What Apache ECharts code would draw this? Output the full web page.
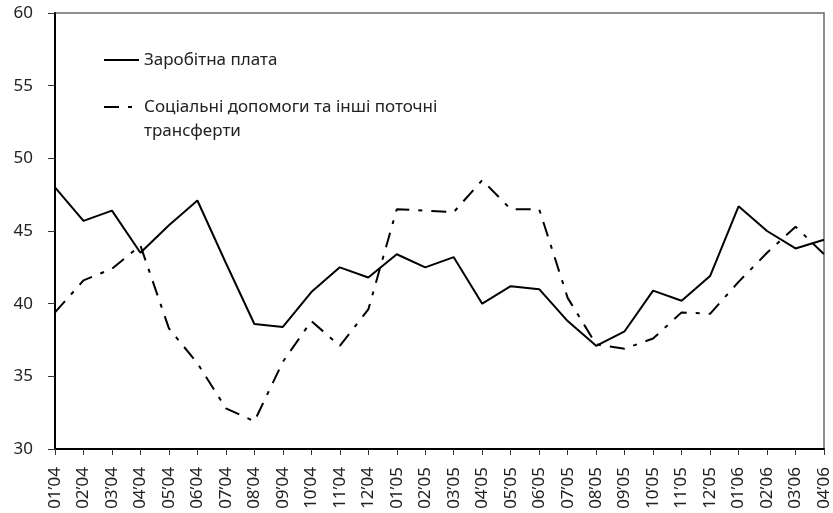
<!DOCTYPE html>
<html>
<head>
<meta charset="utf-8">
<script src="https://cdn.jsdelivr.net/npm/echarts@6/dist/echarts.min.js"></script>
<style>
  html, body { margin: 0; padding: 0; background: #fff; }
  #chart { width: 833px; height: 513px; }
</style>
</head>
<body>
<div id="chart"></div>
<script>
// місяці
const months = [
  '01’04', '02’04', '03’04', '04’04', '05’04', '06’04', '07’04', '08’04', '09’04', '10’04', '11’04', '12’04',
  '01’05', '02’05', '03’05', '04’05', '05’05', '06’05', '07’05', '08’05', '09’05', '10’05', '11’05', '12’05',
  '01’06', '02’06', '03’06', '04’06'
]

// заробітна плата
const wages = [
  48.0, 45.7, 46.4, 43.5, 45.4, 47.1, 42.8, 38.6, 38.4, 40.8, 42.5, 41.8,
  43.4, 42.5, 43.2, 40.0, 41.2, 41.0, 38.8, 37.1, 38.1, 40.9, 40.2, 41.9,
  46.7, 45.0, 43.8, 44.4
]

// соціальні допомоги та інші поточні трансферти
const transfers = [
  39.4, 41.6, 42.4, 44.0, 38.3, 35.9, 32.8, 31.9, 36.0, 38.8, 37.1, 39.6,
  46.5, 46.4, 46.3, 48.5, 46.5, 46.5, 40.4, 37.2, 36.9, 37.6, 39.4, 39.3,
  41.5, 43.5, 45.3, 43.4
]

const yTicks = { min: 30, max: 60, step: 5 }

const wagesName = 'Заробітна плата'
const transfersName = 'Соціальні допомоги та інші поточні\nтрансферти'

const font = 'Noto Sans'
const textColor = '#222'

const chart = echarts.init(document.getElementById('chart'))

// порожній перший рядок, щоб значок стояв навпроти першого рядка підпису
const legendLabel = (name) => name.indexOf('\n') >= 0 ? ' \n' + name : name

chart.setOption({
  animation: false,
  textStyle: { fontFamily: font },
  grid: {
    left: 55,
    right: 9,
    top: 13,
    bottom: 64,
    show: true,
    borderColor: '#6a6a6a',
    borderWidth: 1.5
  },
  legend: [
    {
      data: [wagesName],
      orient: 'vertical',
      left: 103,
      top: 48,
      padding: 0,
      itemWidth: 35,
      itemHeight: 14,
      itemStyle: { opacity: 0 },
      textStyle: { color: textColor, fontSize: 17, fontFamily: font, lineHeight: 24 }
    },
    {
      data: [transfersName],
      orient: 'vertical',
      left: 103,
      top: 71,
      padding: 0,
      itemWidth: 35,
      itemHeight: 14,
      itemStyle: { opacity: 0 },
      formatter: legendLabel,
      textStyle: { color: textColor, fontSize: 17, fontFamily: font, lineHeight: 24 }
    }
  ],
  xAxis: {
    type: 'category',
    data: months,
    boundaryGap: false,
    axisLine: { lineStyle: { color: '#000', width: 2 } },
    axisTick: { show: true, length: 6, lineStyle: { color: '#333', width: 1 } },
    axisLabel: {
      color: textColor,
      fontSize: 17,
      fontFamily: font,
      rotate: 90,
      margin: 18,
      interval: 0
    },
    splitLine: { show: false }
  },
  yAxis: {
    type: 'value',
    min: yTicks.min,
    max: yTicks.max,
    interval: yTicks.step,
    axisLine: { show: true, lineStyle: { color: '#000', width: 2 } },
    axisTick: { show: true, length: 7, lineStyle: { color: '#333', width: 1 } },
    axisLabel: { color: textColor, fontSize: 17, fontFamily: font, margin: 22 },
    splitLine: { show: false }
  },
  series: [
    {
      name: wagesName,
      type: 'line',
      data: wages,
      symbol: 'none',
      lineStyle: { color: '#000', width: 2 },
      itemStyle: { color: '#000' }
    },
    {
      name: transfersName,
      type: 'line',
      data: transfers,
      symbol: 'none',
      lineStyle: { color: '#000', width: 2, type: [15, 9, 4, 9] },
      itemStyle: { color: '#000' }
    }
  ]
})
</script>
</body>
</html>
